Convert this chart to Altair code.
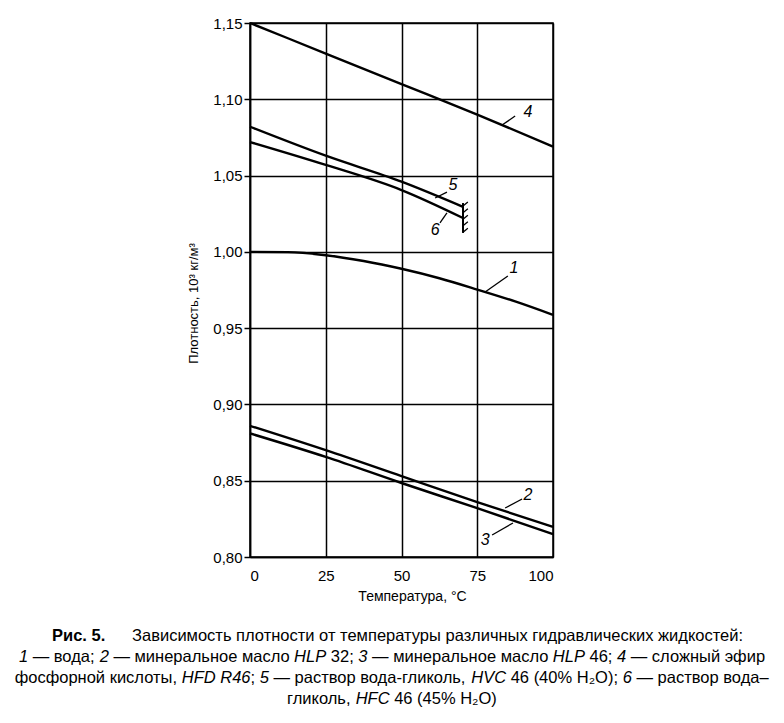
import altair as alt
import pandas as pd

# ---------------- data ----------------
temp_full = [0, 25, 50, 75, 100]
temp_water = [0, 12.5, 25, 37.5, 50, 62.5, 75, 87.5, 100]
dens_water = [1.000, 0.9998, 0.9978, 0.994, 0.9889, 0.9827, 0.9753, 0.9675, 0.9587]  # 1
dens_hlp32 = [0.886, 0.870, 0.853, 0.836, 0.8197]                                   # 2
dens_hlp46 = [0.881, 0.8656, 0.8485, 0.832, 0.815]                                  # 3
dens_hfd = [1.150, 1.130, 1.110, 1.090, 1.069]                                      # 4
temp_glycol = [0, 25, 50, 70.3]
dens_hvc = [1.082, 1.063, 1.046, 1.0295]                                            # 5
dens_hfc = [1.072, 1.057, 1.0405, 1.0222]                                           # 6

# curve labels: number, label position, leader line start/end
lab_names = ["1", "2", "3", "4", "5", "6"]
lab_x = [87.1, 91.7, 77.6, 91.7, 67.0, 61.1]
lab_y = [0.9894, 0.8407, 0.8112, 1.0915, 1.0438, 1.0143]
lead_x1 = [77.6, 84.2, 79.9, 83.2, 61.1, 65.0]
lead_y1 = [0.9737, 0.8321, 0.8144, 1.0831, 1.0353, 1.0255]
lead_x2 = [85.1, 89.8, 86.8, 87.5, 65.0, 62.7]
lead_y2 = [0.9842, 0.8380, 0.8223, 1.0890, 1.0392, 1.0190]

# boiling limit mark of the glycol solutions
limit_t = 70.3
limit_lo, limit_hi = 1.0124, 1.032
limit_ticks = [1.0300, 1.0257, 1.0214, 1.0171, 1.0128]

y_ticks = [0.80, 0.85, 0.90, 0.95, 1.00, 1.05, 1.10, 1.15]
x_ticks = [0, 25, 50, 75, 100]

# caption: (text, style) segments per line
caption_lines = [
    [("Рис. 5.", "b"), ("Зависимость плотности от температуры различных гидравлических жидкостей:", "r")],
    [("1", "i"), (" — вода; ", "r"), ("2", "i"), (" — минеральное масло ", "r"), ("HLP", "i"),
     (" 32; ", "r"), ("3", "i"), (" — минеральное масло ", "r"), ("HLP", "i"), (" 46; ", "r"),
     ("4", "i"), (" — сложный эфир", "r")],
    [("фосфорной кислоты, ", "r"), ("HFD R46", "i"), ("; ", "r"), ("5", "i"),
     (" — раствор вода-гликоль, ", "r"), ("HVC", "i"), (" 46 (40% H₂O); ", "r"), ("6", "i"),
     (" — раствор вода–", "r")],
    [("гликоль, ", "r"), ("HFC", "i"), (" 46 (45% H₂O)", "r")],
]

# ---------------- caption layout (approximate Arial advance widths) ----------------
CAP_SIZE = 16.5
_w = {' ': 278, '—': 1000, '–': 556, ';': 278, ',': 278, '.': 278, ':': 278, '(': 333, ')': 333,
      '%': 889, '-': 333, '₂': 400, 'H': 722, 'L': 556, 'P': 667, 'F': 611, 'D': 722, 'R': 722,
      'V': 667, 'C': 722, 'O': 778, 'Р': 667, 'З': 600,
      'а': 556, 'б': 573, 'в': 531, 'г': 365, 'д': 583, 'е': 556, 'ж': 669, 'з': 458, 'и': 559,
      'й': 559, 'к': 438, 'л': 583, 'м': 688, 'н': 552, 'о': 556, 'п': 542, 'р': 556, 'с': 500,
      'т': 458, 'у': 500, 'ф': 823, 'х': 500, 'ц': 573, 'ч': 521, 'ш': 802, 'щ': 823, 'ъ': 625,
      'ы': 719, 'ь': 521, 'э': 510, 'ю': 750, 'я': 542}


def text_w(s, size=CAP_SIZE):
    return sum(_w.get(c, 556) for c in s) * size / 1000.0


OX, OY = 250, 23          # plot origin on the page
line_py = [636, 657, 678, 699]
center_px = 392
cap_rows = []
# first line: bold figure number then heading
cap_rows.append({"text": "Рис. 5.", "style": "b", "px": 52 - OX, "py": line_py[0] - OY})
cap_rows.append({"text": caption_lines[0][1][0], "style": "r", "px": 132 - OX, "py": line_py[0] - OY})
for li in range(1, 4):
    segs = caption_lines[li]
    total = sum(text_w(t) for t, _ in segs)
    x = center_px - total / 2
    for t, st in segs:
        lead = len(t) - len(t.lstrip(" "))
        cap_rows.append({"text": t.strip(" "), "style": st,
                         "px": x + text_w(" " * lead) - OX, "py": line_py[li] - OY})
        x += text_w(t)
caption = pd.DataFrame(cap_rows)

# ---------------- tables ----------------
rows = []
for t, d in zip(temp_water, dens_water):
    rows.append({"s": "1", "t": t, "d": d})
for name, vals in [("2", dens_hlp32), ("3", dens_hlp46), ("4", dens_hfd)]:
    for t, d in zip(temp_full, vals):
        rows.append({"s": name, "t": t, "d": d})
for name, vals in [("5", dens_hvc), ("6", dens_hfc)]:
    for t, d in zip(temp_glycol, vals):
        rows.append({"s": name, "t": t, "d": d})
curves = pd.DataFrame(rows)

labels = pd.DataFrame({
    "n": lab_names, "x": lab_x, "y": lab_y,
    "x1": lead_x1, "y1": lead_y1, "x2": lead_x2, "y2": lead_y2,
})
limit_df = pd.DataFrame({"t": [limit_t], "lo": [limit_lo], "hi": [limit_hi]})
tick_df = pd.DataFrame({"t": [limit_t] * len(limit_ticks), "y": limit_ticks,
                        "t2": [limit_t + 1.6] * len(limit_ticks),
                        "y2": [v + 0.0026 for v in limit_ticks]})

FONT = "Liberation Sans"
xs = alt.Scale(domain=[0, 100], nice=False, zero=False)
ys = alt.Scale(domain=[0.80, 1.15], nice=False, zero=False)

x_axis = alt.Axis(values=x_ticks, title="Температура, °C", grid=True, gridColor="black",
                  gridWidth=1.5, tickSize=0, labelPadding=11, labelFontSize=15,
                  labelFont=FONT, labelColor="black", domainColor="black", domainWidth=1.5,
                  titleFont=FONT, titleFontSize=14, titleFontWeight="normal", titleColor="black",
                  titleX=162, titleY=39, titleAlign="center", titleBaseline="middle")
y_axis = alt.Axis(values=y_ticks, title="Плотность, 10³ кг/м³", grid=True, gridColor="black",
                  gridWidth=1.5, tickSize=6, tickColor="black", tickWidth=1.5, labelPadding=2,
                  labelFontSize=15, labelFont=FONT, labelColor="black",
                  labelExpr="replace(format(datum.value, '.2f'), '.', ',')",
                  domainColor="black", domainWidth=1.5,
                  titleFont=FONT, titleFontSize=13, titleFontWeight="normal", titleColor="black",
                  titleX=-57, titleY=280, titleAngle=270, titleAlign="center",
                  titleBaseline="middle")

lines = alt.Chart(curves).mark_line(color="black", strokeWidth=2.4, interpolate="monotone").encode(
    x=alt.X("t:Q", scale=xs, axis=x_axis),
    y=alt.Y("d:Q", scale=ys, axis=y_axis),
    detail="s:N",
)

leaders = alt.Chart(labels).mark_rule(color="black", strokeWidth=1.3).encode(
    x=alt.X("x1:Q", scale=xs), y=alt.Y("y1:Q", scale=ys), x2="x2:Q", y2="y2:Q")

texts = alt.Chart(labels).mark_text(font=FONT, fontSize=16, fontStyle="italic",
                                    color="black", align="center", baseline="middle").encode(
    x=alt.X("x:Q", scale=xs), y=alt.Y("y:Q", scale=ys), text="n:N")

limit = alt.Chart(limit_df).mark_rule(color="black", strokeWidth=2).encode(
    x=alt.X("t:Q", scale=xs), y=alt.Y("lo:Q", scale=ys), y2="hi:Q")
limit_marks = alt.Chart(tick_df).mark_rule(color="black", strokeWidth=1.3).encode(
    x=alt.X("t:Q", scale=xs), y=alt.Y("y:Q", scale=ys), x2="t2:Q", y2="y2:Q")


def cap_layer(style, **kw):
    return alt.Chart(caption).transform_filter(alt.datum.style == style).mark_text(
        font=FONT, fontSize=CAP_SIZE, color="black", align="left", baseline="middle", **kw
    ).encode(x=alt.X("px:Q", scale=None), y=alt.Y("py:Q", scale=None), text="text:N")


cap_r = cap_layer("r")
cap_i = cap_layer("i", fontStyle="italic")
cap_b = cap_layer("b", fontWeight="bold")

chart = alt.layer(lines, leaders, texts, limit, limit_marks, cap_r, cap_i, cap_b).properties(
    width=303, height=534,
    autosize=alt.AutoSizeParams(type="none"),
    padding={"left": 242, "top": 15, "right": 223, "bottom": 158},
    background="white",
).configure_view(stroke="black", strokeWidth=1.5)

chart.save("out.html", embed_options={"renderer": "svg", "actions": False})
